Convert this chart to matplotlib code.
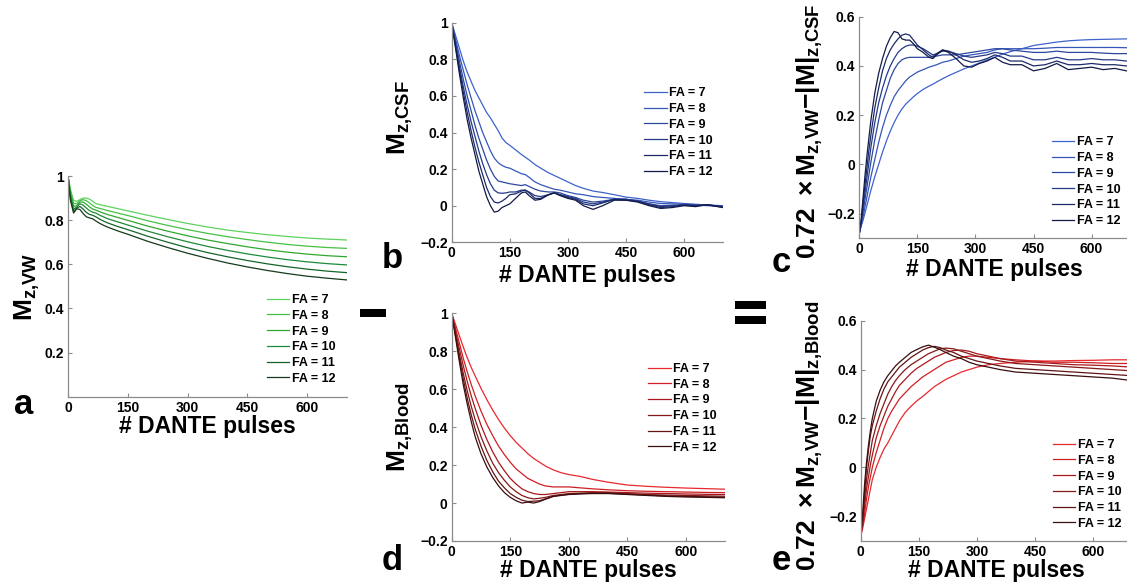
"""Five-panel DANTE figure: wall, CSF and blood Mz versus pulse count, plus the
two contrast panels (wall minus CSF, wall minus blood) for FA = 7..12."""
import matplotlib
matplotlib.use("Agg")
import matplotlib.pyplot as plt
from matplotlib.patches import Rectangle

plt.rcParams["font.family"] = ["Liberation Sans", "DejaVu Sans"]
plt.rcParams["font.weight"] = "bold"
plt.rcParams["mathtext.fontset"] = "custom"
plt.rcParams["mathtext.rm"] = "Liberation Sans:bold"
plt.rcParams["mathtext.bf"] = "Liberation Sans:bold"
plt.rcParams["mathtext.it"] = "Liberation Sans:bold"
plt.rcParams["mathtext.default"] = "bf"

W, H = 1127, 582
FA_LABELS = ["FA = 7", "FA = 8", "FA = 9", "FA = 10", "FA = 11", "FA = 12"]
X_TICKS = [0, 150, 300, 450, 600]

# ── panel a: Mz,VW ────────────────────────────────────────────────────────────
xa = [0, 6, 14, 22, 30, 38, 46, 54, 62, 70, 80, 90, 100, 125, 150, 200, 250,
      300, 350, 400, 450, 500, 550, 600, 650, 700]
a_fa7 = [1.00, 0.94, 0.89, 0.885, 0.893, 0.90, 0.90, 0.895, 0.885, 0.875, 0.870, 0.866, 0.862,
         0.852, 0.842, 0.822, 0.803, 0.785, 0.769, 0.755, 0.744, 0.734, 0.726, 0.719, 0.714, 0.710]
a_fa8 = [1.00, 0.93, 0.875, 0.875, 0.888, 0.893, 0.888, 0.878, 0.866, 0.858, 0.853, 0.848, 0.843,
         0.832, 0.821, 0.797, 0.776, 0.757, 0.740, 0.725, 0.712, 0.700, 0.690, 0.682, 0.676, 0.672]
a_fa9 = [1.00, 0.92, 0.862, 0.866, 0.882, 0.882, 0.872, 0.860, 0.850, 0.845, 0.838, 0.831, 0.825,
         0.812, 0.799, 0.773, 0.750, 0.729, 0.710, 0.694, 0.679, 0.666, 0.655, 0.646, 0.639, 0.634]
a_fa10 = [1.00, 0.91, 0.850, 0.860, 0.874, 0.868, 0.855, 0.843, 0.836, 0.832, 0.822, 0.814, 0.806,
          0.792, 0.778, 0.750, 0.725, 0.702, 0.681, 0.663, 0.647, 0.633, 0.621, 0.611, 0.603, 0.597]
a_fa11 = [1.00, 0.90, 0.840, 0.855, 0.862, 0.850, 0.835, 0.826, 0.822, 0.815, 0.804, 0.795, 0.787,
          0.771, 0.757, 0.727, 0.700, 0.675, 0.653, 0.634, 0.617, 0.602, 0.589, 0.578, 0.569, 0.562]
a_fa12 = [1.00, 0.89, 0.832, 0.852, 0.848, 0.830, 0.815, 0.810, 0.806, 0.796, 0.785, 0.776, 0.768,
          0.751, 0.736, 0.704, 0.676, 0.650, 0.627, 0.606, 0.588, 0.572, 0.558, 0.546, 0.537, 0.529]

# ── panel b: Mz,CSF ───────────────────────────────────────────────────────────
xb = [0, 10, 20, 30, 40, 50, 60, 70, 80, 90, 100, 110, 120, 130, 140, 150, 165, 180, 190, 200,
      215, 230, 250, 265, 280, 300, 320, 340, 365, 390, 420, 450, 480, 510, 540, 570, 600, 630,
      660, 700]
b_fa7 = [1.0, 0.93, 0.86, 0.79, 0.73, 0.68, 0.63, 0.59, 0.55, 0.51, 0.48, 0.445, 0.41, 0.37,
         0.345, 0.33, 0.305, 0.28, 0.265, 0.25, 0.225, 0.205, 0.18, 0.165, 0.15, 0.13, 0.11,
         0.095, 0.08, 0.072, 0.06, 0.047, 0.04, 0.03, 0.022, 0.017, 0.012, 0.008, 0.004, 0.0]
b_fa8 = [1.0, 0.91, 0.82, 0.74, 0.66, 0.59, 0.52, 0.46, 0.40, 0.35, 0.30, 0.26, 0.235, 0.22,
         0.21, 0.205, 0.19, 0.175, 0.17, 0.155, 0.13, 0.115, 0.10, 0.09, 0.085, 0.075, 0.065,
         0.06, 0.05, 0.045, 0.04, 0.035, 0.03, 0.02, 0.012, 0.01, 0.008, 0.005, 0.0, -0.003]
b_fa9 = [1.0, 0.89, 0.79, 0.69, 0.60, 0.52, 0.44, 0.37, 0.31, 0.25, 0.20, 0.16, 0.135, 0.13,
         0.125, 0.12, 0.115, 0.11, 0.115, 0.105, 0.09, 0.08, 0.075, 0.075, 0.07, 0.055, 0.045,
         0.03, 0.02, 0.025, 0.035, 0.035, 0.025, 0.01, 0.0, 0.002, 0.005, 0.003, 0.005, -0.005]
b_fa10 = [1.0, 0.88, 0.76, 0.65, 0.55, 0.46, 0.38, 0.30, 0.23, 0.17, 0.12, 0.085, 0.07, 0.068,
          0.07, 0.075, 0.075, 0.085, 0.085, 0.075, 0.055, 0.05, 0.06, 0.07, 0.06, 0.05, 0.04,
          0.02, 0.01, 0.02, 0.035, 0.035, 0.025, 0.01, -0.005, 0.0, 0.003, 0.0, 0.005, -0.005]
b_fa11 = [1.0, 0.87, 0.74, 0.62, 0.51, 0.41, 0.32, 0.24, 0.17, 0.10, 0.05, 0.02, 0.015, 0.025,
          0.04, 0.06, 0.065, 0.08, 0.085, 0.07, 0.04, 0.04, 0.06, 0.07, 0.06, 0.045, 0.035,
          0.01, 0.0, 0.015, 0.035, 0.03, 0.025, 0.005, -0.01, -0.005, 0.005, 0.0, 0.005, -0.008]
b_fa12 = [1.0, 0.86, 0.72, 0.59, 0.47, 0.37, 0.28, 0.19, 0.12, 0.05, 0.0, -0.035, -0.03, -0.01,
          0.0, 0.01, 0.04, 0.07, 0.075, 0.055, 0.03, 0.035, 0.06, 0.07, 0.055, 0.04, 0.03,
          0.0, -0.02, 0.0, 0.03, 0.03, 0.02, 0.0, -0.015, -0.01, 0.0, -0.005, 0.005, -0.01]

# ── panel c: 0.72 Mz,VW - |M|z,CSF ────────────────────────────────────────────
xc = [0, 5, 10, 15, 20, 25, 30, 40, 50, 60, 70, 80, 90, 100, 110, 120, 130, 140, 150, 165,
      180, 190, 200, 215, 230, 250, 270, 290, 310, 330, 350, 370, 390, 420, 450, 480, 510,
      540, 570, 600, 630, 660, 690, 700]
c_fa7 = [-0.28, -0.25, -0.225, -0.195, -0.165, -0.135, -0.105, -0.05, 0.0, 0.05, 0.095, 0.135,
         0.17, 0.2, 0.225, 0.245, 0.26, 0.275, 0.288, 0.305, 0.318, 0.326, 0.335, 0.348, 0.36,
         0.374, 0.388, 0.4, 0.412, 0.424, 0.436, 0.448, 0.458, 0.47, 0.483, 0.49, 0.497, 0.502,
         0.505, 0.507, 0.508, 0.509, 0.51, 0.51]
c_fa8 = [-0.28, -0.245, -0.21, -0.17, -0.13, -0.09, -0.05, 0.02, 0.09, 0.15, 0.20, 0.24, 0.275,
         0.30, 0.32, 0.34, 0.355, 0.365, 0.375, 0.385, 0.395, 0.40, 0.405, 0.415, 0.42, 0.43,
         0.44, 0.445, 0.45, 0.455, 0.465, 0.47, 0.47, 0.47, 0.47, 0.472, 0.475, 0.475, 0.475,
         0.475, 0.475, 0.475, 0.474, 0.474]
c_fa9 = [-0.28, -0.24, -0.19, -0.14, -0.09, -0.04, 0.01, 0.10, 0.18, 0.25, 0.30, 0.35, 0.385,
         0.41, 0.425, 0.432, 0.435, 0.435, 0.435, 0.435, 0.435, 0.44, 0.44, 0.445, 0.445, 0.445,
         0.45, 0.455, 0.46, 0.465, 0.47, 0.47, 0.465, 0.46, 0.455, 0.455, 0.46, 0.455, 0.455,
         0.455, 0.452, 0.45, 0.45, 0.45]
c_fa10 = [-0.28, -0.235, -0.17, -0.11, -0.05, 0.01, 0.07, 0.17, 0.25, 0.31, 0.36, 0.40, 0.43,
          0.455, 0.47, 0.48, 0.485, 0.485, 0.48, 0.47, 0.455, 0.445, 0.45, 0.46, 0.46, 0.45,
          0.44, 0.435, 0.44, 0.445, 0.455, 0.45, 0.44, 0.44, 0.425, 0.425, 0.435, 0.425, 0.425,
          0.43, 0.425, 0.425, 0.42, 0.42]
c_fa11 = [-0.28, -0.23, -0.15, -0.08, -0.01, 0.06, 0.12, 0.23, 0.31, 0.38, 0.43, 0.465, 0.49,
          0.51, 0.525, 0.53, 0.525, 0.505, 0.485, 0.465, 0.445, 0.435, 0.45, 0.465, 0.46, 0.445,
          0.425, 0.415, 0.42, 0.43, 0.445, 0.435, 0.42, 0.42, 0.40, 0.405, 0.42, 0.405, 0.405,
          0.41, 0.405, 0.405, 0.40, 0.40]
c_fa12 = [-0.28, -0.22, -0.13, -0.04, 0.04, 0.11, 0.18, 0.29, 0.37, 0.43, 0.48, 0.515, 0.54,
          0.535, 0.51, 0.505, 0.505, 0.49, 0.47, 0.455, 0.435, 0.43, 0.445, 0.465, 0.455, 0.43,
          0.40, 0.395, 0.41, 0.42, 0.435, 0.415, 0.405, 0.405, 0.38, 0.39, 0.41, 0.385, 0.39,
          0.395, 0.385, 0.39, 0.38, 0.38]

# ── panel d: Mz,Blood ─────────────────────────────────────────────────────────
xd = [0, 10, 20, 30, 40, 50, 60, 75, 90, 105, 120, 135, 150, 165, 180, 195, 210, 225, 240,
      260, 280, 300, 330, 360, 400, 450, 500, 550, 600, 650, 700]
d_fa7 = [1.0, 0.94, 0.88, 0.82, 0.765, 0.715, 0.67, 0.605, 0.545, 0.49, 0.44, 0.395, 0.355,
         0.32, 0.29, 0.26, 0.235, 0.215, 0.195, 0.175, 0.16, 0.15, 0.14, 0.125, 0.11, 0.095,
         0.088, 0.083, 0.079, 0.076, 0.073]
d_fa8 = [1.0, 0.92, 0.84, 0.76, 0.69, 0.625, 0.565, 0.485, 0.415, 0.355, 0.30, 0.255, 0.215,
         0.18, 0.155, 0.13, 0.115, 0.10, 0.09, 0.085, 0.085, 0.085, 0.08, 0.075, 0.07, 0.065,
         0.062, 0.06, 0.058, 0.056, 0.055]
d_fa9 = [1.0, 0.90, 0.81, 0.72, 0.64, 0.565, 0.50, 0.41, 0.335, 0.27, 0.215, 0.17, 0.13, 0.10,
         0.075, 0.06, 0.05, 0.045, 0.045, 0.05, 0.055, 0.06, 0.06, 0.06, 0.058, 0.055, 0.052,
         0.05, 0.048, 0.046, 0.045]
d_fa10 = [1.0, 0.89, 0.78, 0.68, 0.59, 0.51, 0.44, 0.35, 0.275, 0.21, 0.16, 0.12, 0.085, 0.06,
          0.04, 0.028, 0.022, 0.025, 0.03, 0.04, 0.045, 0.05, 0.052, 0.055, 0.055, 0.05, 0.045,
          0.042, 0.04, 0.038, 0.036]
d_fa11 = [1.0, 0.88, 0.76, 0.65, 0.55, 0.465, 0.39, 0.30, 0.225, 0.165, 0.115, 0.08, 0.05,
          0.03, 0.015, 0.008, 0.01, 0.012, 0.022, 0.035, 0.042, 0.046, 0.05, 0.052, 0.052,
          0.047, 0.042, 0.038, 0.035, 0.033, 0.031]
d_fa12 = [1.0, 0.87, 0.74, 0.62, 0.52, 0.43, 0.35, 0.26, 0.19, 0.135, 0.09, 0.055, 0.03, 0.012,
          0.0, 0.005, 0.0, 0.008, 0.02, 0.035, 0.04, 0.045, 0.048, 0.05, 0.05, 0.045, 0.04,
          0.035, 0.032, 0.03, 0.028]

# ── panel e: 0.72 Mz,VW - |M|z,Blood ──────────────────────────────────────────
xe = [0, 5, 10, 15, 20, 25, 30, 40, 50, 60, 70, 80, 90, 100, 115, 130, 145, 160, 175, 190,
      205, 220, 240, 260, 280, 300, 330, 360, 400, 450, 500, 550, 600, 650, 700]
e_fa7 = [-0.28, -0.25, -0.21, -0.17, -0.13, -0.09, -0.05, 0.0, 0.04, 0.075, 0.10, 0.13, 0.16,
         0.19, 0.225, 0.25, 0.272, 0.29, 0.31, 0.33, 0.345, 0.36, 0.375, 0.39, 0.40, 0.41, 0.42,
         0.425, 0.43, 0.435, 0.435, 0.437, 0.438, 0.44, 0.44]
e_fa8 = [-0.28, -0.24, -0.19, -0.13, -0.08, -0.04, 0.0, 0.06, 0.11, 0.16, 0.20, 0.23, 0.255,
         0.28, 0.305, 0.33, 0.35, 0.37, 0.385, 0.40, 0.415, 0.43, 0.44, 0.45, 0.455, 0.455,
         0.45, 0.445, 0.44, 0.435, 0.43, 0.43, 0.428, 0.425, 0.425]
e_fa9 = [-0.28, -0.23, -0.16, -0.09, -0.04, 0.01, 0.05, 0.12, 0.17, 0.21, 0.25, 0.28, 0.31,
         0.335, 0.36, 0.385, 0.405, 0.42, 0.435, 0.45, 0.46, 0.47, 0.478, 0.48, 0.475, 0.465,
         0.455, 0.445, 0.435, 0.43, 0.425, 0.42, 0.418, 0.415, 0.41]
e_fa10 = [-0.28, -0.22, -0.13, -0.05, 0.01, 0.06, 0.11, 0.17, 0.22, 0.26, 0.30, 0.33, 0.355,
          0.375, 0.40, 0.42, 0.435, 0.45, 0.465, 0.475, 0.485, 0.488, 0.485, 0.475, 0.465,
          0.455, 0.445, 0.435, 0.425, 0.42, 0.415, 0.41, 0.405, 0.40, 0.395]
e_fa11 = [-0.28, -0.21, -0.10, 0.0, 0.07, 0.13, 0.17, 0.23, 0.28, 0.32, 0.35, 0.37, 0.39, 0.41,
          0.43, 0.45, 0.465, 0.48, 0.49, 0.495, 0.49, 0.48, 0.47, 0.455, 0.445, 0.435, 0.425,
          0.415, 0.405, 0.40, 0.395, 0.39, 0.385, 0.38, 0.375]
e_fa12 = [-0.28, -0.19, -0.07, 0.02, 0.09, 0.15, 0.20, 0.27, 0.315, 0.35, 0.375, 0.395, 0.415,
          0.43, 0.45, 0.47, 0.482, 0.493, 0.50, 0.492, 0.482, 0.47, 0.455, 0.445, 0.43, 0.42,
          0.41, 0.40, 0.39, 0.385, 0.38, 0.375, 0.37, 0.365, 0.355]

GREENS = ["#5dd35d", "#45c045", "#2fa82f", "#1f8a3a", "#15652a", "#163a1c"]
BLUES = ["#3f63cc", "#3557bb", "#2c48a0", "#243a88", "#1b2a6a", "#121a48"]
REDS = ["#e8292e", "#d01f23", "#a8181c", "#861818", "#631414", "#3a0e0e"]


def _rect(left, top, right, bottom):
    """Pixel box (y from the top) -> figure-fraction rect."""
    return [left / W, 1 - bottom / H, (right - left) / W, (bottom - top) / H]


def _panel(fig, box, x, series, colors, ylim, yticks, ylabel, ylab_xy, xlab_y, leg_xy):
    ax = fig.add_axes(_rect(*box))
    for ys, c, lab in zip(series, colors, FA_LABELS):
        ax.plot(x, ys, color=c, lw=0.9, label=lab)
    ax.set_xlim(0, 700)
    ax.set_ylim(*ylim)
    ax.set_xticks(X_TICKS)
    ax.set_yticks(yticks)
    ax.set_yticklabels([f"{t:g}".replace("-", "\u2212") for t in yticks])
    for side in ("top", "right"):
        ax.spines[side].set_visible(False)
    for side in ("left", "bottom"):
        ax.spines[side].set_color("#8c8c8c")
        ax.spines[side].set_linewidth(0.9)
    ax.tick_params(direction="in", length=3, width=0.8, color="#8c8c8c",
                   labelsize=10, pad=3)
    for t in ax.get_xticklabels() + ax.get_yticklabels():
        t.set_fontweight("bold")
    ax.set_xlabel("# DANTE pulses", fontsize=16.5, fontweight="bold", va="top")
    ax.xaxis.set_label_coords(0.5, xlab_y)
    ax.set_ylabel(ylabel, fontsize=19)
    ax.yaxis.set_label_coords(*ylab_xy)
    leg = ax.legend(loc="upper left", bbox_to_anchor=leg_xy, frameon=False,
                    fontsize=9, handlelength=1.8, handletextpad=0.2,
                    labelspacing=0.3, borderpad=0, borderaxespad=0)
    for t in leg.get_texts():
        t.set_fontweight("bold")
    return ax


def main():
    fig = plt.figure(figsize=(W / 100, H / 100), dpi=100)

    _panel(fig, (68, 176, 347, 396.7), xa,
           [a_fa7, a_fa8, a_fa9, a_fa10, a_fa11, a_fa12], GREENS,
           (0, 1), [0.2, 0.4, 0.6, 0.8, 1], r"$M_{z{,}VW}$",
           (-0.093, 0.5), -0.083, (0.712, 0.465))
    _panel(fig, (451.7, 22.7, 722.7, 242.3), xb,
           [b_fa7, b_fa8, b_fa9, b_fa10, b_fa11, b_fa12], BLUES,
           (-0.2, 1), [-0.2, 0, 0.2, 0.4, 0.6, 0.8, 1], r"$M_{z{,}CSF}$",
           (-0.135, 0.57), -0.1, (0.711, 0.706))
    _panel(fig, (859.3, 16.7, 1130.3, 238.3), xc,
           [c_fa7, c_fa8, c_fa9, c_fa10, c_fa11, c_fa12], BLUES,
           (-0.3, 0.6), [-0.2, 0, 0.2, 0.4, 0.6],
           r"$0.72\ \times M_{z{,}VW}{-}|M|_{z{,}CSF}$",
           (-0.127, 0.484), -0.09, (0.71, 0.46))
    _panel(fig, (451.7, 313.3, 725, 541), xd,
           [d_fa7, d_fa8, d_fa9, d_fa10, d_fa11, d_fa12], REDS,
           (-0.2, 1), [-0.2, 0, 0.2, 0.4, 0.6, 0.8, 1], r"$M_{z{,}Blood}$",
           (-0.135, 0.5), -0.08, (0.72, 0.782))
    _panel(fig, (860.7, 320.7, 1131.7, 540.7), xe,
           [e_fa7, e_fa8, e_fa9, e_fa10, e_fa11, e_fa12], REDS,
           (-0.3, 0.6), [-0.2, 0, 0.2, 0.4, 0.6],
           r"$0.72\ \times M_{z{,}VW}{-}|M|_{z{,}Blood}$",
           (-0.132, 0.478), -0.083, (0.708, 0.462))

    # panel letters
    for letter, px, py in [("a", 24, 405), ("b", 392, 258), ("c", 781, 262),
                           ("d", 392, 560), ("e", 781, 560)]:
        fig.text(px / W, 1 - py / H, letter, fontsize=25, fontweight="bold",
                 ha="center", va="center")

    # the "minus" and "equals" signs between the columns
    for l, t, r, b in [(360, 309.3, 385.7, 317.3),
                       (735, 301.3, 765.7, 309), (735, 316, 765.7, 324)]:
        x0, y0, w, h = _rect(l, t, r, b)
        fig.add_artist(Rectangle((x0, y0), w, h, transform=fig.transFigure,
                                 color="black", lw=0))

    fig.savefig("out.png", dpi=100)
    plt.close(fig)


if __name__ == "__main__":
    main()
